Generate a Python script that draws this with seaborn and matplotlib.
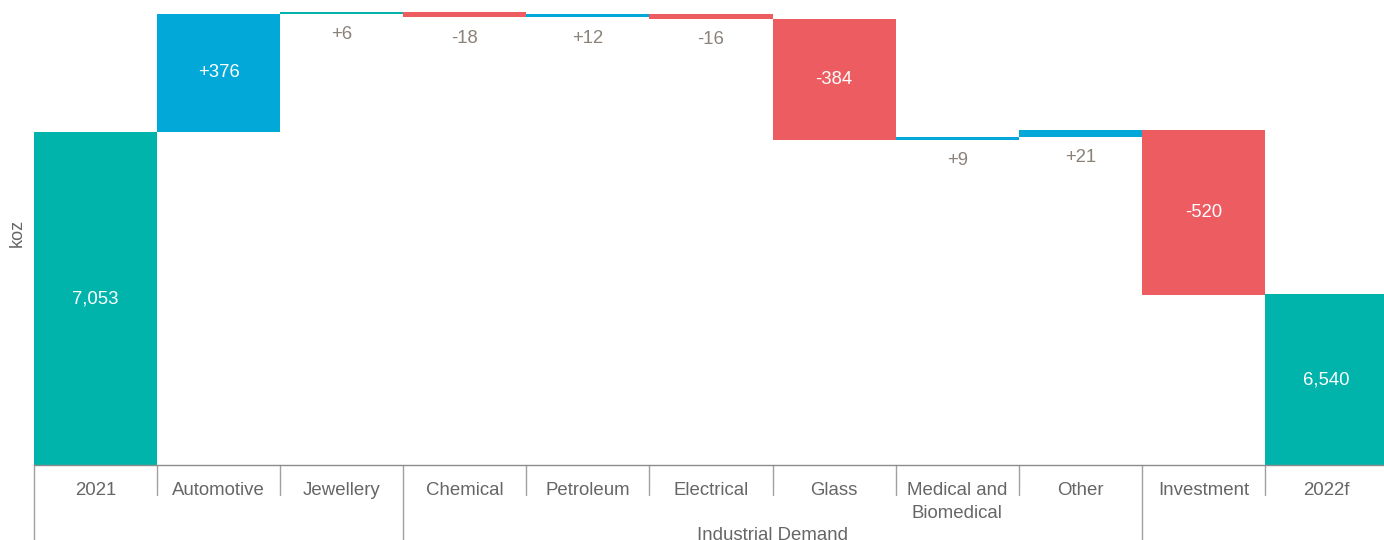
import numpy as np
import pandas as pd
import seaborn as sns
import matplotlib.pyplot as plt

# Waterfall data (koz)
categories = ["2021", "Automotive", "Jewellery", "Chemical", "Petroleum", "Electrical",
              "Glass", "Medical and\nBiomedical", "Other", "Investment", "2022f"]
changes = [7053, 376, 6, -18, 12, -16, -384, 9, 21, -520, 6540]
kinds = ["total", "up", "up", "down", "up", "down", "down", "up", "up", "down", "total"]
group_label = "Industrial Demand"
group_span = (3, 8)  # Chemical .. Other

y_min, y_max = 6000, 7472

colors = {"total": "#00B4AC", "up": "#02A9D8", "down": "#ED5C61"}
jewellery_color = "#00B4AC"

# Compute bar bottoms/heights
bottoms, heights = [], []
running = 0
for val, kind in zip(changes, kinds):
    if kind == "total":
        bottoms.append(y_min)
        heights.append(val - y_min)
        running = val
    else:
        start = running
        end = running + val
        bottoms.append(min(start, end))
        heights.append(abs(val))
        running = end

df = pd.DataFrame({"category": categories, "height": heights, "bottom": bottoms,
                   "change": changes, "kind": kinds})

sns.set_style("white")
plt.rcParams["font.family"] = ["Liberation Sans", "DejaVu Sans"]

fig = plt.figure(figsize=(13.84, 5.40), dpi=100)
# plot area runs a little past the right edge of the picture, as in the reference
ax = fig.add_axes([34 / 1384, 75 / 540, 1354 / 1384, 465 / 540])

sns.barplot(data=df, x="category", y="height", bottom=df["bottom"].values,
            width=1.0, ax=ax, linewidth=0, color="#00B4AC", saturation=1)

for i, patch in enumerate(ax.patches):
    c = colors[kinds[i]]
    if categories[i] == "Jewellery":
        c = jewellery_color
    patch.set_facecolor(c)
    patch.set_edgecolor("none")

ax.set_ylim(y_min, y_max)
ax.set_xlim(-0.5, len(categories) - 0.5)

# Data labels
for i, row in df.iterrows():
    val = row["change"]
    txt = f"{val:,}" if row["kind"] == "total" else f"{val:+,}"
    if row["height"] > 100:
        ax.text(i, row["bottom"] + row["height"] / 2, txt, ha="center", va="center",
                color="white", fontsize=13.3)
    else:
        ax.annotate(txt, (i, row["bottom"]), xytext=(0, -15), textcoords="offset points",
                    ha="center", va="center", color="#8A8279", fontsize=13.3)

# Axes styling
for s in ["top", "right", "left"]:
    ax.spines[s].set_visible(False)
ax.spines["bottom"].set_color("#8C8C8C")
ax.spines["bottom"].set_linewidth(1)
ax.set_yticks([])
ax.set_xlabel("")
ax.set_ylabel("koz", color="#666666", fontsize=13, labelpad=6)
ax.tick_params(axis="x", length=0, pad=12.5, labelsize=13.4, labelcolor="#666666")
for lab in ax.get_xticklabels():
    lab.set_linespacing(1.44)

# Category separators
trans = ax.get_xaxis_transform()
long_edges = [-0.5, group_span[0] - 0.5, group_span[1] + 0.5, len(categories) - 0.5]
for k in range(len(categories) + 1):
    xe = k - 0.5
    if xe in long_edges:
        ax.plot([xe, xe], [0, -75 / 465], transform=trans, color="#A0A0A0", lw=1, clip_on=False)
    else:
        ax.plot([xe, xe], [0, -30 / 465], transform=trans, color="#A0A0A0", lw=1, clip_on=False)

ax.text((group_span[0] + group_span[1]) / 2, -71 / 465, group_label, transform=trans,
        ha="center", va="center", color="#666666", fontsize=13.4)

fig.savefig("out.png", dpi=100)
